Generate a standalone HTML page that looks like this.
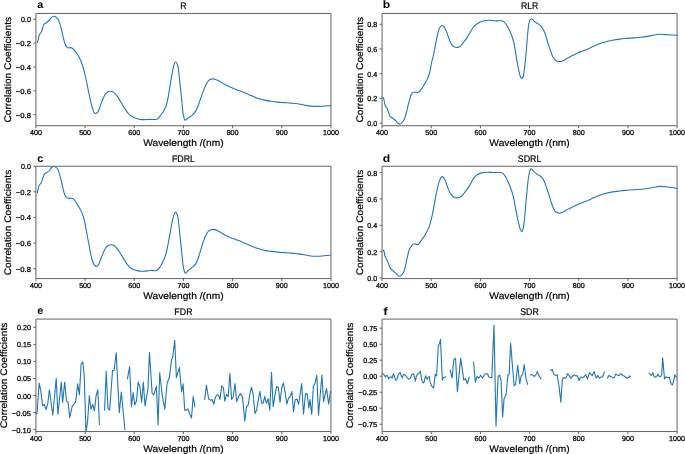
<!DOCTYPE html>
<html><head><meta charset="utf-8"><style>html,body{margin:0;padding:0;background:#fff;}svg{display:block;will-change:transform;}</style></head><body>
<svg width="685" height="454" viewBox="0 0 685 454" text-rendering="geometricPrecision" font-family='"Liberation Sans", sans-serif' fill="#000">
<rect width="685" height="454" fill="#fff"/>
<clipPath id="clipa"><rect x="35.93" y="13.45" width="295.01" height="112.28"/></clipPath>
<path d="M37.40,42.30 C37.58,41.70 38.20,39.95 38.50,38.70 C38.80,37.45 38.88,35.67 39.20,34.80 C39.52,33.93 40.02,34.03 40.40,33.50 C40.78,32.97 41.13,32.53 41.50,31.60 C41.87,30.67 42.17,29.15 42.60,27.90 C43.03,26.65 43.67,24.85 44.10,24.10 C44.53,23.35 44.70,23.72 45.20,23.40 C45.70,23.08 46.40,22.77 47.10,22.20 C47.80,21.63 48.65,20.80 49.40,20.00 C50.15,19.20 50.87,18.02 51.60,17.40 C52.33,16.78 53.13,16.42 53.80,16.30 C54.47,16.18 55.03,16.33 55.60,16.70 C56.17,17.07 56.67,17.85 57.20,18.50 C57.73,19.15 58.20,19.15 58.80,20.60 C59.40,22.05 60.14,24.78 60.80,27.20 C61.46,29.62 62.10,32.47 62.75,35.10 C63.40,37.73 64.04,41.02 64.70,43.00 C65.36,44.98 66.03,46.18 66.70,47.00 C67.37,47.82 67.93,47.78 68.70,47.90 C69.47,48.02 70.42,47.42 71.30,47.70 C72.18,47.98 73.00,48.50 74.00,49.60 C75.00,50.70 76.20,52.53 77.30,54.30 C78.40,56.07 79.60,57.93 80.60,60.20 C81.60,62.47 82.42,64.85 83.30,67.90 C84.18,70.95 85.02,74.53 85.90,78.50 C86.78,82.47 87.72,87.52 88.60,91.70 C89.48,95.88 90.32,100.18 91.20,103.60 C92.08,107.02 93.12,110.55 93.90,112.20 C94.68,113.85 95.13,113.72 95.90,113.50 C96.67,113.28 97.63,112.55 98.50,110.90 C99.37,109.25 100.12,106.13 101.10,103.60 C102.08,101.07 103.29,97.63 104.40,95.70 C105.51,93.77 106.75,92.73 107.75,92.00 C108.75,91.27 109.41,91.23 110.40,91.30 C111.39,91.37 112.60,91.63 113.70,92.40 C114.80,93.17 115.78,94.25 117.00,95.90 C118.22,97.55 119.68,100.13 121.00,102.30 C122.32,104.47 123.58,106.92 124.90,108.90 C126.22,110.88 127.57,112.83 128.90,114.20 C130.23,115.57 131.58,116.38 132.90,117.10 C134.22,117.82 135.62,118.12 136.80,118.50 C137.98,118.88 138.76,119.22 140.00,119.40 C141.24,119.58 142.67,119.60 144.25,119.60 C145.83,119.60 147.74,119.43 149.50,119.40 C151.26,119.38 153.47,119.50 154.80,119.45 C156.13,119.40 156.62,119.69 157.50,119.10 C158.38,118.51 159.12,117.21 160.10,115.90 C161.08,114.59 162.40,112.90 163.40,111.25 C164.40,109.60 165.33,108.21 166.10,106.00 C166.87,103.79 167.35,101.32 168.00,98.00 C168.65,94.68 169.33,90.06 170.00,86.10 C170.67,82.14 171.40,77.55 172.00,74.25 C172.60,70.95 173.05,68.34 173.60,66.30 C174.15,64.26 174.57,61.95 175.30,62.00 C176.03,62.05 177.33,64.07 178.00,66.60 C178.67,69.13 178.87,73.45 179.30,77.20 C179.73,80.95 180.17,84.92 180.60,89.10 C181.03,93.28 181.47,98.12 181.90,102.30 C182.33,106.48 182.68,111.22 183.20,114.20 C183.72,117.18 184.22,119.58 185.00,120.20 C185.78,120.82 186.77,118.67 187.90,117.90 C189.03,117.13 190.47,116.82 191.80,115.60 C193.13,114.38 194.77,112.43 195.90,110.60 C197.03,108.77 197.82,106.58 198.60,104.60 C199.38,102.62 199.83,100.90 200.60,98.70 C201.37,96.50 202.32,93.72 203.20,91.40 C204.08,89.08 205.02,86.60 205.90,84.80 C206.78,83.00 207.52,81.58 208.50,80.60 C209.48,79.62 210.70,79.12 211.80,78.90 C212.90,78.68 213.88,78.93 215.10,79.30 C216.32,79.67 217.55,80.28 219.10,81.10 C220.65,81.92 222.65,83.25 224.40,84.20 C226.15,85.15 227.62,85.88 229.60,86.80 C231.57,87.72 234.03,88.82 236.25,89.70 C238.47,90.58 240.34,91.08 242.90,92.10 C245.46,93.12 249.07,94.75 251.60,95.80 C254.13,96.85 255.92,97.68 258.10,98.40 C260.28,99.12 262.50,99.62 264.70,100.10 C266.90,100.58 269.12,100.97 271.30,101.30 C273.48,101.63 275.62,101.88 277.80,102.10 C279.98,102.32 282.20,102.43 284.40,102.60 C286.60,102.77 288.80,102.90 291.00,103.10 C293.20,103.30 295.42,103.48 297.60,103.80 C299.78,104.12 301.92,104.62 304.10,105.00 C306.28,105.38 308.50,105.87 310.70,106.10 C312.90,106.33 315.12,106.40 317.30,106.40 C319.48,106.40 321.62,106.23 323.80,106.10 C325.98,105.97 329.30,105.68 330.40,105.60" fill="none" stroke="#1f77b4" stroke-width="1.1" stroke-linejoin="round" stroke-linecap="square" clip-path="url(#clipa)"/>
<path d="M35.93,13.45 H330.94 V125.73 H35.93 Z" fill="none" stroke="#626262" stroke-width="1.00"/>
<line x1="35.93" y1="125.73" x2="35.93" y2="128.23" stroke="#626262" stroke-width="1.00"/>
<text x="35.93" y="135.13" font-size="7.20" text-anchor="middle" font-weight="normal" stroke="#000" stroke-width="0.25" textLength="11.92" lengthAdjust="spacingAndGlyphs">400</text>
<line x1="85.10" y1="125.73" x2="85.10" y2="128.23" stroke="#626262" stroke-width="1.00"/>
<text x="85.10" y="135.13" font-size="7.20" text-anchor="middle" font-weight="normal" stroke="#000" stroke-width="0.25" textLength="11.92" lengthAdjust="spacingAndGlyphs">500</text>
<line x1="134.27" y1="125.73" x2="134.27" y2="128.23" stroke="#626262" stroke-width="1.00"/>
<text x="134.27" y="135.13" font-size="7.20" text-anchor="middle" font-weight="normal" stroke="#000" stroke-width="0.25" textLength="11.92" lengthAdjust="spacingAndGlyphs">600</text>
<line x1="183.44" y1="125.73" x2="183.44" y2="128.23" stroke="#626262" stroke-width="1.00"/>
<text x="183.44" y="135.13" font-size="7.20" text-anchor="middle" font-weight="normal" stroke="#000" stroke-width="0.25" textLength="11.92" lengthAdjust="spacingAndGlyphs">700</text>
<line x1="232.60" y1="125.73" x2="232.60" y2="128.23" stroke="#626262" stroke-width="1.00"/>
<text x="232.60" y="135.13" font-size="7.20" text-anchor="middle" font-weight="normal" stroke="#000" stroke-width="0.25" textLength="11.92" lengthAdjust="spacingAndGlyphs">800</text>
<line x1="281.77" y1="125.73" x2="281.77" y2="128.23" stroke="#626262" stroke-width="1.00"/>
<text x="281.77" y="135.13" font-size="7.20" text-anchor="middle" font-weight="normal" stroke="#000" stroke-width="0.25" textLength="11.92" lengthAdjust="spacingAndGlyphs">900</text>
<line x1="330.94" y1="125.73" x2="330.94" y2="128.23" stroke="#626262" stroke-width="1.00"/>
<text x="330.94" y="135.13" font-size="7.20" text-anchor="middle" font-weight="normal" stroke="#000" stroke-width="0.25" textLength="15.90" lengthAdjust="spacingAndGlyphs">1000</text>
<line x1="33.43" y1="19.26" x2="35.93" y2="19.26" stroke="#626262" stroke-width="1.00"/>
<text x="31.03" y="22.26" font-size="7.20" text-anchor="end" font-weight="normal" stroke="#000" stroke-width="0.25" textLength="9.94" lengthAdjust="spacingAndGlyphs">0.0</text>
<line x1="33.43" y1="43.11" x2="35.93" y2="43.11" stroke="#626262" stroke-width="1.00"/>
<text x="31.03" y="46.11" font-size="7.20" text-anchor="end" font-weight="normal" stroke="#000" stroke-width="0.25" textLength="15.17" lengthAdjust="spacingAndGlyphs">−0.2</text>
<line x1="33.43" y1="66.96" x2="35.93" y2="66.96" stroke="#626262" stroke-width="1.00"/>
<text x="31.03" y="69.96" font-size="7.20" text-anchor="end" font-weight="normal" stroke="#000" stroke-width="0.25" textLength="15.17" lengthAdjust="spacingAndGlyphs">−0.4</text>
<line x1="33.43" y1="90.80" x2="35.93" y2="90.80" stroke="#626262" stroke-width="1.00"/>
<text x="31.03" y="93.80" font-size="7.20" text-anchor="end" font-weight="normal" stroke="#000" stroke-width="0.25" textLength="15.17" lengthAdjust="spacingAndGlyphs">−0.6</text>
<line x1="33.43" y1="114.65" x2="35.93" y2="114.65" stroke="#626262" stroke-width="1.00"/>
<text x="31.03" y="117.65" font-size="7.20" text-anchor="end" font-weight="normal" stroke="#000" stroke-width="0.25" textLength="15.17" lengthAdjust="spacingAndGlyphs">−0.8</text>
<text x="183.44" y="146.33" font-size="9.60" text-anchor="middle" font-weight="normal" stroke="#000" stroke-width="0.20" textLength="80.40" lengthAdjust="spacingAndGlyphs">Wavelength /(nm)</text>
<text x="0" y="0" font-size="9.60" text-anchor="middle" textLength="105.6" lengthAdjust="spacingAndGlyphs" stroke="#000" stroke-width="0.20" transform="translate(10.80,69.74) rotate(-90)">Correlation Coefficients</text>
<text x="183.44" y="8.95" font-size="9.60" text-anchor="middle" font-weight="normal" stroke="#000" stroke-width="0.20" textLength="6.19" lengthAdjust="spacingAndGlyphs">R</text>
<text x="37.23" y="7.90" font-size="10.80" text-anchor="start" font-weight="bold">a</text>
<clipPath id="clipb"><rect x="382.06" y="13.45" width="295.01" height="112.28"/></clipPath>
<path d="M382.50,97.50 C382.67,97.60 383.22,97.55 383.50,98.10 C383.78,98.65 383.92,99.52 384.20,100.80 C384.48,102.08 384.75,104.65 385.20,105.80 C385.65,106.95 386.35,106.62 386.90,107.70 C387.45,108.78 387.98,110.88 388.50,112.30 C389.02,113.72 389.37,115.25 390.00,116.20 C390.63,117.15 391.40,117.30 392.30,118.00 C393.20,118.70 394.57,119.58 395.40,120.40 C396.23,121.22 396.59,122.28 397.30,122.90 C398.01,123.52 398.93,124.07 399.65,124.10 C400.37,124.13 400.96,123.65 401.60,123.10 C402.24,122.55 402.93,121.76 403.50,120.80 C404.07,119.84 404.48,118.82 405.00,117.35 C405.52,115.88 406.08,113.99 406.60,112.00 C407.12,110.01 407.58,107.47 408.10,105.40 C408.62,103.33 409.20,101.40 409.70,99.60 C410.20,97.80 410.50,95.80 411.10,94.60 C411.70,93.40 412.48,92.80 413.30,92.40 C414.12,92.00 415.08,92.25 416.00,92.20 C416.92,92.15 417.88,92.62 418.80,92.10 C419.72,91.58 420.50,90.52 421.50,89.10 C422.50,87.68 423.78,85.34 424.80,83.60 C425.82,81.86 426.77,80.58 427.60,78.65 C428.43,76.72 429.17,74.53 429.80,72.00 C430.43,69.47 430.85,66.07 431.40,63.50 C431.95,60.93 432.58,58.85 433.10,56.60 C433.62,54.35 433.87,53.20 434.50,50.00 C435.13,46.80 436.17,40.82 436.90,37.40 C437.63,33.98 438.23,31.40 438.90,29.50 C439.57,27.60 440.32,26.66 440.90,26.00 C441.48,25.34 441.85,25.40 442.40,25.55 C442.95,25.70 443.58,26.02 444.20,26.90 C444.82,27.77 445.45,29.27 446.10,30.80 C446.75,32.33 447.43,34.33 448.10,36.10 C448.77,37.87 449.43,39.85 450.10,41.40 C450.77,42.95 451.33,44.45 452.10,45.40 C452.87,46.35 453.72,46.77 454.70,47.10 C455.68,47.43 457.00,47.62 458.00,47.40 C459.00,47.18 459.82,46.58 460.70,45.80 C461.58,45.02 462.32,43.98 463.30,42.70 C464.28,41.42 465.50,39.75 466.60,38.10 C467.70,36.45 468.80,34.57 469.90,32.80 C471.00,31.03 472.10,28.93 473.20,27.50 C474.30,26.07 475.28,25.12 476.50,24.20 C477.72,23.28 479.25,22.58 480.50,22.00 C481.75,21.42 482.77,20.98 484.00,20.70 C485.23,20.42 486.37,20.33 487.90,20.30 C489.43,20.27 491.65,20.40 493.20,20.50 C494.75,20.60 495.88,20.87 497.20,20.90 C498.52,20.93 500.00,20.58 501.10,20.70 C502.20,20.82 502.92,20.90 503.80,21.60 C504.68,22.30 505.52,23.58 506.40,24.90 C507.28,26.22 508.22,27.73 509.10,29.50 C509.98,31.27 510.93,33.40 511.70,35.50 C512.47,37.60 513.12,39.68 513.70,42.10 C514.28,44.52 514.75,47.37 515.20,50.00 C515.65,52.63 515.93,55.15 516.40,57.90 C516.87,60.65 517.48,63.90 518.00,66.50 C518.52,69.10 519.08,71.75 519.50,73.50 C519.92,75.25 520.12,76.18 520.50,77.00 C520.88,77.82 521.35,78.48 521.80,78.40 C522.25,78.32 522.78,77.90 523.20,76.50 C523.62,75.10 523.97,72.42 524.30,70.00 C524.63,67.58 524.90,64.83 525.20,62.00 C525.50,59.17 525.82,56.17 526.10,53.00 C526.38,49.83 526.63,46.17 526.90,43.00 C527.17,39.83 527.45,36.67 527.70,34.00 C527.95,31.33 528.08,29.18 528.40,27.00 C528.72,24.82 529.12,22.25 529.60,20.90 C530.08,19.55 530.75,19.12 531.30,18.90 C531.85,18.68 532.45,19.22 532.90,19.60 C533.35,19.98 533.57,20.76 534.00,21.20 C534.43,21.64 534.85,21.82 535.50,22.25 C536.15,22.68 536.95,23.14 537.90,23.80 C538.85,24.46 540.20,25.03 541.20,26.20 C542.20,27.37 543.12,29.15 543.90,30.80 C544.68,32.45 545.25,34.12 545.90,36.10 C546.55,38.08 547.15,40.60 547.80,42.70 C548.45,44.80 549.02,46.48 549.80,48.70 C550.58,50.92 551.62,54.13 552.50,56.00 C553.38,57.87 554.12,58.97 555.10,59.90 C556.08,60.83 557.30,61.38 558.40,61.60 C559.50,61.82 560.48,61.59 561.70,61.20 C562.92,60.81 564.38,59.95 565.70,59.25 C567.02,58.55 568.28,57.71 569.60,57.00 C570.92,56.29 572.27,55.68 573.60,55.00 C574.93,54.32 576.05,53.58 577.60,52.90 C579.15,52.22 581.15,51.57 582.90,50.90 C584.65,50.23 586.60,49.55 588.10,48.90 C589.60,48.25 590.10,47.82 591.90,47.00 C593.70,46.18 596.58,44.87 598.90,44.00 C601.22,43.13 603.50,42.42 605.80,41.80 C608.10,41.17 610.38,40.70 612.70,40.25 C615.02,39.80 617.38,39.41 619.70,39.10 C622.02,38.79 624.30,38.60 626.60,38.40 C628.90,38.20 631.18,38.08 633.50,37.90 C635.82,37.72 638.18,37.55 640.50,37.30 C642.82,37.05 645.10,36.78 647.40,36.40 C649.70,36.02 652.22,35.35 654.30,35.00 C656.38,34.65 658.05,34.37 659.90,34.30 C661.75,34.23 663.55,34.48 665.40,34.60 C667.25,34.72 669.10,34.88 671.00,35.00 C672.90,35.12 675.83,35.25 676.80,35.30" fill="none" stroke="#1f77b4" stroke-width="1.1" stroke-linejoin="round" stroke-linecap="square" clip-path="url(#clipb)"/>
<path d="M382.06,13.45 H677.07 V125.73 H382.06 Z" fill="none" stroke="#626262" stroke-width="1.00"/>
<line x1="382.06" y1="125.73" x2="382.06" y2="128.23" stroke="#626262" stroke-width="1.00"/>
<text x="382.06" y="135.13" font-size="7.20" text-anchor="middle" font-weight="normal" stroke="#000" stroke-width="0.25" textLength="11.92" lengthAdjust="spacingAndGlyphs">400</text>
<line x1="431.23" y1="125.73" x2="431.23" y2="128.23" stroke="#626262" stroke-width="1.00"/>
<text x="431.23" y="135.13" font-size="7.20" text-anchor="middle" font-weight="normal" stroke="#000" stroke-width="0.25" textLength="11.92" lengthAdjust="spacingAndGlyphs">500</text>
<line x1="480.40" y1="125.73" x2="480.40" y2="128.23" stroke="#626262" stroke-width="1.00"/>
<text x="480.40" y="135.13" font-size="7.20" text-anchor="middle" font-weight="normal" stroke="#000" stroke-width="0.25" textLength="11.92" lengthAdjust="spacingAndGlyphs">600</text>
<line x1="529.57" y1="125.73" x2="529.57" y2="128.23" stroke="#626262" stroke-width="1.00"/>
<text x="529.57" y="135.13" font-size="7.20" text-anchor="middle" font-weight="normal" stroke="#000" stroke-width="0.25" textLength="11.92" lengthAdjust="spacingAndGlyphs">700</text>
<line x1="578.73" y1="125.73" x2="578.73" y2="128.23" stroke="#626262" stroke-width="1.00"/>
<text x="578.73" y="135.13" font-size="7.20" text-anchor="middle" font-weight="normal" stroke="#000" stroke-width="0.25" textLength="11.92" lengthAdjust="spacingAndGlyphs">800</text>
<line x1="627.90" y1="125.73" x2="627.90" y2="128.23" stroke="#626262" stroke-width="1.00"/>
<text x="627.90" y="135.13" font-size="7.20" text-anchor="middle" font-weight="normal" stroke="#000" stroke-width="0.25" textLength="11.92" lengthAdjust="spacingAndGlyphs">900</text>
<line x1="677.07" y1="125.73" x2="677.07" y2="128.23" stroke="#626262" stroke-width="1.00"/>
<text x="677.07" y="135.13" font-size="7.20" text-anchor="middle" font-weight="normal" stroke="#000" stroke-width="0.25" textLength="15.90" lengthAdjust="spacingAndGlyphs">1000</text>
<line x1="379.56" y1="123.12" x2="382.06" y2="123.12" stroke="#626262" stroke-width="1.00"/>
<text x="377.16" y="126.12" font-size="7.20" text-anchor="end" font-weight="normal" stroke="#000" stroke-width="0.25" textLength="9.94" lengthAdjust="spacingAndGlyphs">0.0</text>
<line x1="379.56" y1="98.41" x2="382.06" y2="98.41" stroke="#626262" stroke-width="1.00"/>
<text x="377.16" y="101.41" font-size="7.20" text-anchor="end" font-weight="normal" stroke="#000" stroke-width="0.25" textLength="9.94" lengthAdjust="spacingAndGlyphs">0.2</text>
<line x1="379.56" y1="73.69" x2="382.06" y2="73.69" stroke="#626262" stroke-width="1.00"/>
<text x="377.16" y="76.69" font-size="7.20" text-anchor="end" font-weight="normal" stroke="#000" stroke-width="0.25" textLength="9.94" lengthAdjust="spacingAndGlyphs">0.4</text>
<line x1="379.56" y1="48.98" x2="382.06" y2="48.98" stroke="#626262" stroke-width="1.00"/>
<text x="377.16" y="51.98" font-size="7.20" text-anchor="end" font-weight="normal" stroke="#000" stroke-width="0.25" textLength="9.94" lengthAdjust="spacingAndGlyphs">0.6</text>
<line x1="379.56" y1="24.26" x2="382.06" y2="24.26" stroke="#626262" stroke-width="1.00"/>
<text x="377.16" y="27.26" font-size="7.20" text-anchor="end" font-weight="normal" stroke="#000" stroke-width="0.25" textLength="9.94" lengthAdjust="spacingAndGlyphs">0.8</text>
<text x="529.57" y="146.33" font-size="9.60" text-anchor="middle" font-weight="normal" stroke="#000" stroke-width="0.20" textLength="80.40" lengthAdjust="spacingAndGlyphs">Wavelength /(nm)</text>
<text x="0" y="0" font-size="9.60" text-anchor="middle" textLength="105.6" lengthAdjust="spacingAndGlyphs" stroke="#000" stroke-width="0.20" transform="translate(362.60,69.74) rotate(-90)">Correlation Coefficients</text>
<text x="529.57" y="8.95" font-size="9.60" text-anchor="middle" font-weight="normal" stroke="#000" stroke-width="0.20" textLength="17.33" lengthAdjust="spacingAndGlyphs">RLR</text>
<text x="382.76" y="7.90" font-size="10.80" text-anchor="start" font-weight="bold" textLength="7.45" lengthAdjust="spacingAndGlyphs">b</text>
<clipPath id="clipc"><rect x="35.93" y="166.27" width="295.01" height="112.30"/></clipPath>
<path d="M37.40,192.60 C37.58,191.78 38.20,188.92 38.50,187.70 C38.80,186.48 38.85,185.98 39.20,185.30 C39.55,184.62 40.22,184.13 40.60,183.60 C40.98,183.07 41.17,182.92 41.50,182.10 C41.83,181.28 42.17,179.95 42.60,178.70 C43.03,177.45 43.67,175.47 44.10,174.60 C44.53,173.73 44.70,173.87 45.20,173.50 C45.70,173.13 46.40,172.90 47.10,172.40 C47.80,171.90 48.65,171.32 49.40,170.50 C50.15,169.68 50.90,168.18 51.60,167.50 C52.30,166.82 52.92,166.47 53.60,166.40 C54.28,166.33 55.03,166.67 55.70,167.10 C56.37,167.53 57.08,168.22 57.60,169.00 C58.12,169.78 58.27,170.15 58.80,171.80 C59.33,173.45 60.14,176.30 60.80,178.90 C61.46,181.50 62.10,184.77 62.75,187.40 C63.40,190.03 64.04,193.00 64.70,194.70 C65.36,196.40 65.92,196.98 66.70,197.60 C67.48,198.22 68.40,198.27 69.40,198.40 C70.40,198.53 71.72,197.92 72.70,198.40 C73.68,198.88 74.32,199.93 75.30,201.30 C76.28,202.67 77.50,204.72 78.60,206.60 C79.70,208.48 80.90,210.12 81.90,212.60 C82.90,215.08 83.82,218.23 84.60,221.50 C85.38,224.77 85.93,228.66 86.60,232.20 C87.27,235.74 87.93,239.23 88.60,242.75 C89.27,246.27 89.94,250.22 90.60,253.30 C91.26,256.38 91.90,259.27 92.55,261.25 C93.20,263.23 93.84,264.32 94.50,265.20 C95.16,266.07 95.83,266.60 96.50,266.50 C97.17,266.40 97.83,265.70 98.50,264.60 C99.17,263.50 99.83,261.57 100.50,259.90 C101.17,258.23 101.73,256.47 102.50,254.60 C103.27,252.73 104.22,250.18 105.10,248.70 C105.97,247.22 106.76,246.37 107.75,245.70 C108.74,245.03 109.94,244.70 111.05,244.70 C112.16,244.70 113.41,245.03 114.40,245.70 C115.39,246.37 116.02,247.43 117.00,248.70 C117.98,249.97 119.20,251.65 120.30,253.30 C121.40,254.95 122.50,256.83 123.60,258.60 C124.70,260.37 125.80,262.40 126.90,263.90 C128.00,265.40 128.98,266.62 130.20,267.60 C131.42,268.58 132.88,269.25 134.20,269.80 C135.52,270.35 136.97,270.67 138.10,270.90 C139.23,271.13 139.97,271.15 141.00,271.20 C142.03,271.25 142.68,271.32 144.25,271.20 C145.82,271.08 148.34,270.62 150.40,270.50 C152.46,270.38 155.05,271.02 156.60,270.50 C158.15,269.98 158.67,268.82 159.70,267.40 C160.73,265.98 161.78,264.18 162.80,262.00 C163.83,259.82 164.95,257.38 165.85,254.30 C166.75,251.22 167.42,247.37 168.20,243.50 C168.97,239.63 169.73,235.22 170.50,231.10 C171.27,226.98 171.98,221.93 172.80,218.80 C173.62,215.67 174.55,212.56 175.40,212.30 C176.25,212.04 177.18,213.85 177.90,217.25 C178.62,220.65 179.13,227.56 179.70,232.70 C180.27,237.84 180.73,242.70 181.30,248.10 C181.87,253.50 182.47,260.93 183.10,265.10 C183.73,269.27 184.25,272.20 185.10,273.10 C185.95,274.00 187.03,271.45 188.20,270.50 C189.37,269.55 190.82,268.55 192.10,267.40 C193.38,266.25 194.82,265.33 195.90,263.60 C196.98,261.87 197.82,259.20 198.60,257.00 C199.38,254.80 199.83,252.93 200.60,250.40 C201.37,247.87 202.32,244.33 203.20,241.80 C204.08,239.27 205.02,236.97 205.90,235.20 C206.78,233.43 207.52,232.15 208.50,231.20 C209.48,230.25 210.70,229.77 211.80,229.50 C212.90,229.23 213.88,229.25 215.10,229.60 C216.32,229.95 217.55,230.73 219.10,231.60 C220.65,232.47 222.65,233.85 224.40,234.80 C226.15,235.75 227.62,236.47 229.60,237.30 C231.57,238.13 234.03,238.95 236.25,239.80 C238.47,240.65 240.34,241.33 242.90,242.40 C245.46,243.47 249.07,245.18 251.60,246.20 C254.13,247.22 255.92,247.80 258.10,248.50 C260.28,249.20 262.50,249.92 264.70,250.40 C266.90,250.88 269.12,251.12 271.30,251.40 C273.48,251.68 275.62,251.90 277.80,252.10 C279.98,252.30 282.20,252.43 284.40,252.60 C286.60,252.77 288.80,252.90 291.00,253.10 C293.20,253.30 295.42,253.53 297.60,253.80 C299.78,254.07 301.92,254.33 304.10,254.70 C306.28,255.07 308.50,255.73 310.70,256.00 C312.90,256.27 315.12,256.33 317.30,256.30 C319.48,256.27 321.62,256.00 323.80,255.80 C325.98,255.60 329.30,255.22 330.40,255.10" fill="none" stroke="#1f77b4" stroke-width="1.1" stroke-linejoin="round" stroke-linecap="square" clip-path="url(#clipc)"/>
<path d="M35.93,166.27 H330.94 V278.57 H35.93 Z" fill="none" stroke="#626262" stroke-width="1.00"/>
<line x1="35.93" y1="278.57" x2="35.93" y2="281.07" stroke="#626262" stroke-width="1.00"/>
<text x="35.93" y="287.97" font-size="7.20" text-anchor="middle" font-weight="normal" stroke="#000" stroke-width="0.25" textLength="11.92" lengthAdjust="spacingAndGlyphs">400</text>
<line x1="85.10" y1="278.57" x2="85.10" y2="281.07" stroke="#626262" stroke-width="1.00"/>
<text x="85.10" y="287.97" font-size="7.20" text-anchor="middle" font-weight="normal" stroke="#000" stroke-width="0.25" textLength="11.92" lengthAdjust="spacingAndGlyphs">500</text>
<line x1="134.27" y1="278.57" x2="134.27" y2="281.07" stroke="#626262" stroke-width="1.00"/>
<text x="134.27" y="287.97" font-size="7.20" text-anchor="middle" font-weight="normal" stroke="#000" stroke-width="0.25" textLength="11.92" lengthAdjust="spacingAndGlyphs">600</text>
<line x1="183.44" y1="278.57" x2="183.44" y2="281.07" stroke="#626262" stroke-width="1.00"/>
<text x="183.44" y="287.97" font-size="7.20" text-anchor="middle" font-weight="normal" stroke="#000" stroke-width="0.25" textLength="11.92" lengthAdjust="spacingAndGlyphs">700</text>
<line x1="232.60" y1="278.57" x2="232.60" y2="281.07" stroke="#626262" stroke-width="1.00"/>
<text x="232.60" y="287.97" font-size="7.20" text-anchor="middle" font-weight="normal" stroke="#000" stroke-width="0.25" textLength="11.92" lengthAdjust="spacingAndGlyphs">800</text>
<line x1="281.77" y1="278.57" x2="281.77" y2="281.07" stroke="#626262" stroke-width="1.00"/>
<text x="281.77" y="287.97" font-size="7.20" text-anchor="middle" font-weight="normal" stroke="#000" stroke-width="0.25" textLength="11.92" lengthAdjust="spacingAndGlyphs">900</text>
<line x1="330.94" y1="278.57" x2="330.94" y2="281.07" stroke="#626262" stroke-width="1.00"/>
<text x="330.94" y="287.97" font-size="7.20" text-anchor="middle" font-weight="normal" stroke="#000" stroke-width="0.25" textLength="15.90" lengthAdjust="spacingAndGlyphs">1000</text>
<line x1="33.43" y1="166.12" x2="35.93" y2="166.12" stroke="#626262" stroke-width="1.00"/>
<text x="31.03" y="169.12" font-size="7.20" text-anchor="end" font-weight="normal" stroke="#000" stroke-width="0.25" textLength="9.94" lengthAdjust="spacingAndGlyphs">0.0</text>
<line x1="33.43" y1="191.77" x2="35.93" y2="191.77" stroke="#626262" stroke-width="1.00"/>
<text x="31.03" y="194.77" font-size="7.20" text-anchor="end" font-weight="normal" stroke="#000" stroke-width="0.25" textLength="15.17" lengthAdjust="spacingAndGlyphs">−0.2</text>
<line x1="33.43" y1="217.42" x2="35.93" y2="217.42" stroke="#626262" stroke-width="1.00"/>
<text x="31.03" y="220.42" font-size="7.20" text-anchor="end" font-weight="normal" stroke="#000" stroke-width="0.25" textLength="15.17" lengthAdjust="spacingAndGlyphs">−0.4</text>
<line x1="33.43" y1="243.07" x2="35.93" y2="243.07" stroke="#626262" stroke-width="1.00"/>
<text x="31.03" y="246.07" font-size="7.20" text-anchor="end" font-weight="normal" stroke="#000" stroke-width="0.25" textLength="15.17" lengthAdjust="spacingAndGlyphs">−0.6</text>
<line x1="33.43" y1="268.72" x2="35.93" y2="268.72" stroke="#626262" stroke-width="1.00"/>
<text x="31.03" y="271.72" font-size="7.20" text-anchor="end" font-weight="normal" stroke="#000" stroke-width="0.25" textLength="15.17" lengthAdjust="spacingAndGlyphs">−0.8</text>
<text x="183.44" y="299.17" font-size="9.60" text-anchor="middle" font-weight="normal" stroke="#000" stroke-width="0.20" textLength="80.40" lengthAdjust="spacingAndGlyphs">Wavelength /(nm)</text>
<text x="0" y="0" font-size="9.60" text-anchor="middle" textLength="105.6" lengthAdjust="spacingAndGlyphs" stroke="#000" stroke-width="0.20" transform="translate(10.80,222.57) rotate(-90)">Correlation Coefficients</text>
<text x="183.44" y="161.77" font-size="9.60" text-anchor="middle" font-weight="normal" stroke="#000" stroke-width="0.20" textLength="23.11" lengthAdjust="spacingAndGlyphs">FDRL</text>
<text x="37.23" y="161.80" font-size="10.80" text-anchor="start" font-weight="bold">c</text>
<clipPath id="clipd"><rect x="382.06" y="166.27" width="295.01" height="112.30"/></clipPath>
<path d="M382.90,250.00 C383.00,250.10 383.28,250.27 383.50,250.60 C383.72,250.93 383.95,251.03 384.20,252.00 C384.45,252.97 384.60,255.20 385.00,256.40 C385.40,257.60 386.05,258.08 386.60,259.20 C387.15,260.32 387.65,261.53 388.30,263.10 C388.95,264.67 389.68,267.28 390.50,268.60 C391.32,269.92 392.28,270.18 393.20,271.00 C394.12,271.82 395.17,272.75 396.00,273.50 C396.83,274.25 397.57,275.03 398.20,275.50 C398.83,275.97 399.17,276.45 399.80,276.30 C400.43,276.15 401.30,275.43 402.00,274.60 C402.70,273.77 403.40,272.85 404.00,271.30 C404.60,269.75 405.05,267.60 405.60,265.30 C406.15,263.00 406.70,260.08 407.30,257.50 C407.90,254.92 408.52,251.72 409.20,249.80 C409.88,247.88 410.67,246.95 411.40,246.00 C412.13,245.05 412.77,244.38 413.60,244.10 C414.43,243.82 415.57,244.32 416.40,244.30 C417.23,244.28 417.65,244.85 418.60,244.00 C419.55,243.15 420.93,240.88 422.10,239.20 C423.27,237.52 424.43,235.95 425.60,233.90 C426.77,231.85 428.07,229.68 429.10,226.90 C430.13,224.12 430.92,221.03 431.80,217.20 C432.68,213.37 433.52,208.47 434.40,203.90 C435.28,199.33 436.22,193.77 437.10,189.80 C437.98,185.83 438.82,182.30 439.70,180.10 C440.57,177.90 441.47,176.60 442.35,176.60 C443.23,176.60 444.12,178.33 445.00,180.10 C445.88,181.87 446.72,184.99 447.60,187.20 C448.48,189.41 449.27,191.73 450.30,193.35 C451.33,194.97 452.48,196.16 453.80,196.90 C455.12,197.64 456.87,197.95 458.20,197.80 C459.53,197.65 460.62,197.03 461.80,196.00 C462.98,194.97 463.98,193.37 465.30,191.60 C466.62,189.83 468.40,187.48 469.70,185.40 C471.00,183.32 471.90,180.85 473.10,179.10 C474.30,177.35 475.48,175.93 476.90,174.90 C478.32,173.87 479.92,173.35 481.60,172.90 C483.28,172.45 485.08,172.27 487.00,172.20 C488.92,172.13 491.18,172.45 493.10,172.50 C495.02,172.55 496.95,172.43 498.50,172.50 C500.05,172.57 501.23,172.18 502.40,172.90 C503.57,173.62 504.47,175.12 505.50,176.80 C506.53,178.48 507.58,180.68 508.60,183.00 C509.62,185.32 510.70,187.88 511.60,190.70 C512.50,193.52 513.22,196.30 514.00,199.90 C514.78,203.50 515.53,208.43 516.30,212.30 C517.07,216.17 517.95,220.32 518.60,223.10 C519.25,225.88 519.68,227.58 520.20,229.00 C520.72,230.42 521.20,231.68 521.70,231.60 C522.20,231.52 522.77,230.27 523.20,228.50 C523.63,226.73 523.95,223.92 524.30,221.00 C524.65,218.08 524.97,214.67 525.30,211.00 C525.63,207.33 525.95,203.00 526.30,199.00 C526.65,195.00 527.02,190.67 527.40,187.00 C527.78,183.33 528.08,179.95 528.60,177.00 C529.12,174.05 529.88,170.52 530.50,169.30 C531.12,168.08 531.57,169.15 532.30,169.70 C533.03,170.25 533.92,171.78 534.90,172.60 C535.88,173.42 537.10,173.83 538.20,174.60 C539.30,175.37 540.50,176.10 541.50,177.20 C542.50,178.30 543.32,179.32 544.20,181.20 C545.08,183.08 545.93,185.97 546.80,188.50 C547.67,191.03 548.52,193.65 549.40,196.40 C550.28,199.15 551.22,202.63 552.10,205.00 C552.98,207.37 553.60,209.24 554.70,210.60 C555.80,211.96 557.38,212.88 558.70,213.15 C560.02,213.42 561.17,212.79 562.60,212.20 C564.03,211.61 565.65,210.48 567.30,209.60 C568.95,208.72 570.75,207.73 572.50,206.90 C574.25,206.07 576.03,205.37 577.80,204.60 C579.57,203.83 581.33,203.02 583.10,202.30 C584.87,201.58 586.93,200.92 588.40,200.30 C589.87,199.68 590.15,199.40 591.90,198.60 C593.65,197.80 596.58,196.38 598.90,195.50 C601.22,194.62 603.50,193.90 605.80,193.30 C608.10,192.70 610.38,192.28 612.70,191.90 C615.02,191.52 617.38,191.27 619.70,191.00 C622.02,190.73 624.30,190.52 626.60,190.30 C628.90,190.08 631.18,189.87 633.50,189.70 C635.82,189.53 638.18,189.51 640.50,189.30 C642.82,189.09 645.10,188.80 647.40,188.45 C649.70,188.10 652.22,187.54 654.30,187.20 C656.38,186.86 658.05,186.47 659.90,186.40 C661.75,186.33 663.55,186.62 665.40,186.80 C667.25,186.98 669.10,187.25 671.00,187.50 C672.90,187.75 675.83,188.17 676.80,188.30" fill="none" stroke="#1f77b4" stroke-width="1.1" stroke-linejoin="round" stroke-linecap="square" clip-path="url(#clipd)"/>
<path d="M382.06,166.27 H677.07 V278.57 H382.06 Z" fill="none" stroke="#626262" stroke-width="1.00"/>
<line x1="382.06" y1="278.57" x2="382.06" y2="281.07" stroke="#626262" stroke-width="1.00"/>
<text x="382.06" y="287.97" font-size="7.20" text-anchor="middle" font-weight="normal" stroke="#000" stroke-width="0.25" textLength="11.92" lengthAdjust="spacingAndGlyphs">400</text>
<line x1="431.23" y1="278.57" x2="431.23" y2="281.07" stroke="#626262" stroke-width="1.00"/>
<text x="431.23" y="287.97" font-size="7.20" text-anchor="middle" font-weight="normal" stroke="#000" stroke-width="0.25" textLength="11.92" lengthAdjust="spacingAndGlyphs">500</text>
<line x1="480.40" y1="278.57" x2="480.40" y2="281.07" stroke="#626262" stroke-width="1.00"/>
<text x="480.40" y="287.97" font-size="7.20" text-anchor="middle" font-weight="normal" stroke="#000" stroke-width="0.25" textLength="11.92" lengthAdjust="spacingAndGlyphs">600</text>
<line x1="529.57" y1="278.57" x2="529.57" y2="281.07" stroke="#626262" stroke-width="1.00"/>
<text x="529.57" y="287.97" font-size="7.20" text-anchor="middle" font-weight="normal" stroke="#000" stroke-width="0.25" textLength="11.92" lengthAdjust="spacingAndGlyphs">700</text>
<line x1="578.73" y1="278.57" x2="578.73" y2="281.07" stroke="#626262" stroke-width="1.00"/>
<text x="578.73" y="287.97" font-size="7.20" text-anchor="middle" font-weight="normal" stroke="#000" stroke-width="0.25" textLength="11.92" lengthAdjust="spacingAndGlyphs">800</text>
<line x1="627.90" y1="278.57" x2="627.90" y2="281.07" stroke="#626262" stroke-width="1.00"/>
<text x="627.90" y="287.97" font-size="7.20" text-anchor="middle" font-weight="normal" stroke="#000" stroke-width="0.25" textLength="11.92" lengthAdjust="spacingAndGlyphs">900</text>
<line x1="677.07" y1="278.57" x2="677.07" y2="281.07" stroke="#626262" stroke-width="1.00"/>
<text x="677.07" y="287.97" font-size="7.20" text-anchor="middle" font-weight="normal" stroke="#000" stroke-width="0.25" textLength="15.90" lengthAdjust="spacingAndGlyphs">1000</text>
<line x1="379.56" y1="278.02" x2="382.06" y2="278.02" stroke="#626262" stroke-width="1.00"/>
<text x="377.16" y="281.02" font-size="7.20" text-anchor="end" font-weight="normal" stroke="#000" stroke-width="0.25" textLength="9.94" lengthAdjust="spacingAndGlyphs">0.0</text>
<line x1="379.56" y1="251.64" x2="382.06" y2="251.64" stroke="#626262" stroke-width="1.00"/>
<text x="377.16" y="254.64" font-size="7.20" text-anchor="end" font-weight="normal" stroke="#000" stroke-width="0.25" textLength="9.94" lengthAdjust="spacingAndGlyphs">0.2</text>
<line x1="379.56" y1="225.26" x2="382.06" y2="225.26" stroke="#626262" stroke-width="1.00"/>
<text x="377.16" y="228.26" font-size="7.20" text-anchor="end" font-weight="normal" stroke="#000" stroke-width="0.25" textLength="9.94" lengthAdjust="spacingAndGlyphs">0.4</text>
<line x1="379.56" y1="198.88" x2="382.06" y2="198.88" stroke="#626262" stroke-width="1.00"/>
<text x="377.16" y="201.88" font-size="7.20" text-anchor="end" font-weight="normal" stroke="#000" stroke-width="0.25" textLength="9.94" lengthAdjust="spacingAndGlyphs">0.6</text>
<line x1="379.56" y1="172.50" x2="382.06" y2="172.50" stroke="#626262" stroke-width="1.00"/>
<text x="377.16" y="175.50" font-size="7.20" text-anchor="end" font-weight="normal" stroke="#000" stroke-width="0.25" textLength="9.94" lengthAdjust="spacingAndGlyphs">0.8</text>
<text x="529.57" y="299.17" font-size="9.60" text-anchor="middle" font-weight="normal" stroke="#000" stroke-width="0.20" textLength="80.40" lengthAdjust="spacingAndGlyphs">Wavelength /(nm)</text>
<text x="0" y="0" font-size="9.60" text-anchor="middle" textLength="105.6" lengthAdjust="spacingAndGlyphs" stroke="#000" stroke-width="0.20" transform="translate(362.60,222.57) rotate(-90)">Correlation Coefficients</text>
<text x="529.57" y="161.77" font-size="9.60" text-anchor="middle" font-weight="normal" stroke="#000" stroke-width="0.20" textLength="23.65" lengthAdjust="spacingAndGlyphs">SDRL</text>
<text x="382.76" y="161.80" font-size="10.80" text-anchor="start" font-weight="bold" textLength="7.45" lengthAdjust="spacingAndGlyphs">d</text>
<clipPath id="clipe"><rect x="35.93" y="319.10" width="295.01" height="112.45"/></clipPath>
<path d="M36.00,414.00 L37.00,413.50 L39.20,383.00 L40.90,391.40 L42.60,405.80 L44.30,404.50 L46.00,409.60 L47.70,404.20 L49.40,389.70 L51.10,402.50 L52.80,415.20 L56.20,378.40 L57.90,414.30 L61.30,382.10 L62.60,402.50 L64.70,382.10 L66.40,400.80 L68.10,402.10 L69.70,417.70 L72.30,405.80 L74.00,404.20 L75.70,401.60 L77.70,383.80 L79.40,394.80 L81.10,364.30 L82.80,361.80 L84.20,375.30 L86.00,432.50 L87.60,421.10 L89.30,395.70 L91.00,409.20 L92.70,404.20 L94.40,410.90 L96.10,395.70 L97.80,389.70 L99.50,424.50" fill="none" stroke="#1f77b4" stroke-width="1.1" stroke-linejoin="round" stroke-linecap="square" clip-path="url(#clipe)"/>
<path d="M104.60,410.10 L106.20,371.40 L108.00,408.40 L109.70,410.10 L112.50,370.60 L114.10,370.40 L116.20,352.90 L119.30,412.60 L121.30,392.00 L124.90,429.60" fill="none" stroke="#1f77b4" stroke-width="1.1" stroke-linejoin="round" stroke-linecap="square" clip-path="url(#clipe)"/>
<path d="M127.50,378.70 L129.60,366.50 L131.40,406.70 L133.10,392.60 L134.80,405.00 L136.50,400.80 L138.20,382.10 L139.90,386.40 L141.60,402.50 L143.30,382.10 L145.00,405.80 L147.90,389.70 L149.50,352.20 L152.10,393.10 L153.80,394.80 L156.40,386.40 L158.10,424.80 L159.70,372.80 L162.30,395.70 L164.80,409.20 L167.00,383.80 L169.40,377.00 L171.50,360.40 L172.80,356.50 L174.70,340.30 L176.40,377.60 L179.40,367.30 L181.60,392.00 L183.10,383.80 L184.70,410.10 L186.40,410.10 L187.80,408.90 L189.50,413.50 L191.50,418.00 L193.20,396.50 L194.90,406.70" fill="none" stroke="#1f77b4" stroke-width="1.1" stroke-linejoin="round" stroke-linecap="square" clip-path="url(#clipe)"/>
<path d="M204.70,399.40 L206.40,385.20 L208.60,398.70 L210.70,400.40 L212.00,399.40 L213.70,404.20 L215.40,397.00 L217.30,394.80 L218.60,395.30 L219.90,399.40 L221.80,385.80 L223.50,388.00 L224.80,401.10 L226.50,394.30 L228.20,396.50 L229.90,373.30 L231.60,399.40 L233.30,396.50 L235.00,383.50 L236.70,401.60 L238.70,396.50 L240.40,393.60 L242.50,397.00 L244.80,421.10 L246.50,406.70 L248.20,405.00 L249.70,394.80 L251.40,387.20 L253.10,394.00 L255.00,413.50 L256.70,410.10 L258.40,399.10 L259.90,391.40 L261.70,403.30 L263.10,403.30 L264.70,396.50 L266.40,403.30 L268.10,398.70 L269.80,410.10 L271.50,372.30 L273.20,406.70 L274.90,395.70 L276.60,386.40 L278.30,387.20 L280.00,402.50 L281.70,388.00 L283.40,383.00 L285.10,392.30 L286.80,404.20 L288.50,398.20 L290.20,396.50 L291.90,391.40 L293.50,411.80 L295.20,399.70 L296.90,399.00 L298.60,404.40 L301.70,383.50 L303.50,414.20 L305.50,393.60 L307.20,394.00 L308.90,408.00 L310.00,399.50 L311.70,414.40 L313.40,386.40 L315.10,383.00 L316.80,375.40 L318.50,415.30 L321.90,375.00 L323.60,401.70 L326.50,388.60 L328.70,404.20 L330.40,391.50 L331.00,393.00" fill="none" stroke="#1f77b4" stroke-width="1.1" stroke-linejoin="round" stroke-linecap="square" clip-path="url(#clipe)"/>
<path d="M35.93,319.10 H330.94 V431.55 H35.93 Z" fill="none" stroke="#626262" stroke-width="1.00"/>
<line x1="35.93" y1="431.55" x2="35.93" y2="434.05" stroke="#626262" stroke-width="1.00"/>
<text x="35.93" y="440.95" font-size="7.20" text-anchor="middle" font-weight="normal" stroke="#000" stroke-width="0.25" textLength="11.92" lengthAdjust="spacingAndGlyphs">400</text>
<line x1="85.10" y1="431.55" x2="85.10" y2="434.05" stroke="#626262" stroke-width="1.00"/>
<text x="85.10" y="440.95" font-size="7.20" text-anchor="middle" font-weight="normal" stroke="#000" stroke-width="0.25" textLength="11.92" lengthAdjust="spacingAndGlyphs">500</text>
<line x1="134.27" y1="431.55" x2="134.27" y2="434.05" stroke="#626262" stroke-width="1.00"/>
<text x="134.27" y="440.95" font-size="7.20" text-anchor="middle" font-weight="normal" stroke="#000" stroke-width="0.25" textLength="11.92" lengthAdjust="spacingAndGlyphs">600</text>
<line x1="183.44" y1="431.55" x2="183.44" y2="434.05" stroke="#626262" stroke-width="1.00"/>
<text x="183.44" y="440.95" font-size="7.20" text-anchor="middle" font-weight="normal" stroke="#000" stroke-width="0.25" textLength="11.92" lengthAdjust="spacingAndGlyphs">700</text>
<line x1="232.60" y1="431.55" x2="232.60" y2="434.05" stroke="#626262" stroke-width="1.00"/>
<text x="232.60" y="440.95" font-size="7.20" text-anchor="middle" font-weight="normal" stroke="#000" stroke-width="0.25" textLength="11.92" lengthAdjust="spacingAndGlyphs">800</text>
<line x1="281.77" y1="431.55" x2="281.77" y2="434.05" stroke="#626262" stroke-width="1.00"/>
<text x="281.77" y="440.95" font-size="7.20" text-anchor="middle" font-weight="normal" stroke="#000" stroke-width="0.25" textLength="11.92" lengthAdjust="spacingAndGlyphs">900</text>
<line x1="330.94" y1="431.55" x2="330.94" y2="434.05" stroke="#626262" stroke-width="1.00"/>
<text x="330.94" y="440.95" font-size="7.20" text-anchor="middle" font-weight="normal" stroke="#000" stroke-width="0.25" textLength="15.90" lengthAdjust="spacingAndGlyphs">1000</text>
<line x1="33.43" y1="429.58" x2="35.93" y2="429.58" stroke="#626262" stroke-width="1.00"/>
<text x="31.03" y="432.58" font-size="7.20" text-anchor="end" font-weight="normal" stroke="#000" stroke-width="0.25" textLength="19.15" lengthAdjust="spacingAndGlyphs">−0.10</text>
<line x1="33.43" y1="412.54" x2="35.93" y2="412.54" stroke="#626262" stroke-width="1.00"/>
<text x="31.03" y="415.54" font-size="7.20" text-anchor="end" font-weight="normal" stroke="#000" stroke-width="0.25" textLength="19.15" lengthAdjust="spacingAndGlyphs">−0.05</text>
<line x1="33.43" y1="395.50" x2="35.93" y2="395.50" stroke="#626262" stroke-width="1.00"/>
<text x="31.03" y="398.50" font-size="7.20" text-anchor="end" font-weight="normal" stroke="#000" stroke-width="0.25" textLength="13.91" lengthAdjust="spacingAndGlyphs">0.00</text>
<line x1="33.43" y1="378.46" x2="35.93" y2="378.46" stroke="#626262" stroke-width="1.00"/>
<text x="31.03" y="381.46" font-size="7.20" text-anchor="end" font-weight="normal" stroke="#000" stroke-width="0.25" textLength="13.91" lengthAdjust="spacingAndGlyphs">0.05</text>
<line x1="33.43" y1="361.42" x2="35.93" y2="361.42" stroke="#626262" stroke-width="1.00"/>
<text x="31.03" y="364.42" font-size="7.20" text-anchor="end" font-weight="normal" stroke="#000" stroke-width="0.25" textLength="13.91" lengthAdjust="spacingAndGlyphs">0.10</text>
<line x1="33.43" y1="344.38" x2="35.93" y2="344.38" stroke="#626262" stroke-width="1.00"/>
<text x="31.03" y="347.38" font-size="7.20" text-anchor="end" font-weight="normal" stroke="#000" stroke-width="0.25" textLength="13.91" lengthAdjust="spacingAndGlyphs">0.15</text>
<line x1="33.43" y1="327.34" x2="35.93" y2="327.34" stroke="#626262" stroke-width="1.00"/>
<text x="31.03" y="330.34" font-size="7.20" text-anchor="end" font-weight="normal" stroke="#000" stroke-width="0.25" textLength="13.91" lengthAdjust="spacingAndGlyphs">0.20</text>
<text x="183.44" y="452.15" font-size="9.60" text-anchor="middle" font-weight="normal" stroke="#000" stroke-width="0.20" textLength="80.40" lengthAdjust="spacingAndGlyphs">Wavelength /(nm)</text>
<text x="0" y="0" font-size="9.60" text-anchor="middle" textLength="105.6" lengthAdjust="spacingAndGlyphs" stroke="#000" stroke-width="0.20" transform="translate(7.10,375.48) rotate(-90)">Correlation Coefficients</text>
<text x="183.44" y="314.60" font-size="9.60" text-anchor="middle" font-weight="normal" stroke="#000" stroke-width="0.20" textLength="18.16" lengthAdjust="spacingAndGlyphs">FDR</text>
<text x="37.23" y="314.10" font-size="10.80" text-anchor="start" font-weight="bold">e</text>
<clipPath id="clipf"><rect x="382.06" y="319.10" width="295.01" height="112.45"/></clipPath>
<path d="M382.50,373.50 L383.10,373.90 L384.20,375.00 L385.40,377.10 L386.50,375.40 L387.50,375.80 L388.60,378.90 L389.60,377.70 L390.80,376.60 L392.20,378.10 L393.50,373.50 L394.50,376.60 L395.40,380.20 L396.80,379.90 L398.10,375.40 L399.10,373.50 L400.20,372.30 L401.00,375.00 L402.20,378.10 L403.10,375.00 L404.30,374.30 L405.80,375.80 L407.30,377.90 L408.90,379.30 L410.40,378.10 L411.70,374.80 L413.50,373.70 L414.50,377.00 L415.40,381.20 L416.40,376.20 L417.80,373.70 L419.30,372.70 L420.40,371.40 L421.40,378.50 L422.50,382.20 L423.80,383.00 L424.70,379.30 L425.60,375.80 L427.00,379.30 L428.20,377.30 L429.30,376.60 L430.10,381.60 L431.60,385.90 L433.70,388.00 L435.20,374.40 L436.60,375.80 L438.30,345.80 L439.50,343.60 L440.50,339.30 L442.30,380.10 L443.80,377.30 L445.60,377.00" fill="none" stroke="#1f77b4" stroke-width="1.1" stroke-linejoin="round" stroke-linecap="square" clip-path="url(#clipf)"/>
<path d="M450.20,370.10 L452.10,378.00 L453.80,359.40 L455.50,358.40 L457.40,391.60 L460.70,358.40 L463.80,380.10 L465.50,378.70 L467.40,383.70 L469.30,377.30" fill="none" stroke="#1f77b4" stroke-width="1.1" stroke-linejoin="round" stroke-linecap="square" clip-path="url(#clipf)"/>
<path d="M473.60,362.20 L475.30,382.20 L477.00,376.30 L478.80,378.30 L480.60,375.30 L482.60,377.80 L485.10,373.80 L487.60,373.80 L488.80,377.00 L491.80,377.80 L494.00,325.00 L496.00,426.50 L498.10,376.30 L499.80,375.30 L501.10,380.80 L502.60,417.20 L504.10,398.40 L506.10,394.60 L507.90,375.30 L509.10,374.50 L510.60,343.10 L514.10,385.80 L515.60,384.60 L517.70,365.20 L519.70,383.80 L521.20,375.80 L522.70,374.50 L524.20,364.50 L526.20,379.60 L527.60,384.20" fill="none" stroke="#1f77b4" stroke-width="1.1" stroke-linejoin="round" stroke-linecap="square" clip-path="url(#clipf)"/>
<path d="M530.60,375.10 L532.20,374.60 L534.40,376.50 L536.00,374.60 L537.30,371.50 L538.80,375.40 L541.00,378.70" fill="none" stroke="#1f77b4" stroke-width="1.1" stroke-linejoin="round" stroke-linecap="square" clip-path="url(#clipf)"/>
<path d="M550.50,370.40 L552.30,369.50 L553.80,374.30 L555.60,375.40 L557.10,374.80 L559.10,386.40 L560.80,402.30 L562.40,379.20 L563.80,377.60 L565.20,378.30 L566.30,377.60 L567.70,373.50 L569.00,375.40 L570.70,378.10 L572.30,376.50 L574.30,374.80 L575.60,375.90 L577.00,375.40 L577.80,377.00 L579.20,380.50 L580.60,377.00 L582.40,377.60 L584.40,376.50 L585.70,374.60 L587.50,379.00 L589.40,372.60 L591.00,374.30 L592.30,375.70 L594.10,371.50 L595.40,375.90 L596.30,378.10 L597.60,375.40 L599.30,378.30 L600.90,377.00 L602.60,377.00 L604.40,372.10" fill="none" stroke="#1f77b4" stroke-width="1.1" stroke-linejoin="round" stroke-linecap="square" clip-path="url(#clipf)"/>
<path d="M607.50,378.10 L608.80,375.40 L610.80,376.50 L613.00,377.60 L614.30,377.60 L615.80,373.90 L617.40,375.00 L619.10,375.70 L621.00,373.50 L622.40,375.40 L624.00,375.90 L625.40,377.00 L627.10,378.30 L628.40,377.60 L629.80,375.90 L630.30,376.50" fill="none" stroke="#1f77b4" stroke-width="1.1" stroke-linejoin="round" stroke-linecap="square" clip-path="url(#clipf)"/>
<path d="M649.10,373.10 L650.60,374.70 L651.50,375.50 L652.80,372.60 L654.20,376.70 L655.70,377.10 L656.90,375.90 L658.10,374.30 L659.30,376.70 L660.90,376.20 L661.70,374.70 L662.70,357.70 L664.50,378.90 L666.10,376.70 L667.80,377.70 L669.30,377.10 L670.90,383.70 L672.40,385.00 L673.60,381.30 L674.80,374.70 L676.40,377.10 L677.00,377.00" fill="none" stroke="#1f77b4" stroke-width="1.1" stroke-linejoin="round" stroke-linecap="square" clip-path="url(#clipf)"/>
<path d="M382.06,319.10 H677.07 V431.55 H382.06 Z" fill="none" stroke="#626262" stroke-width="1.00"/>
<line x1="382.06" y1="431.55" x2="382.06" y2="434.05" stroke="#626262" stroke-width="1.00"/>
<text x="382.06" y="440.95" font-size="7.20" text-anchor="middle" font-weight="normal" stroke="#000" stroke-width="0.25" textLength="11.92" lengthAdjust="spacingAndGlyphs">400</text>
<line x1="431.23" y1="431.55" x2="431.23" y2="434.05" stroke="#626262" stroke-width="1.00"/>
<text x="431.23" y="440.95" font-size="7.20" text-anchor="middle" font-weight="normal" stroke="#000" stroke-width="0.25" textLength="11.92" lengthAdjust="spacingAndGlyphs">500</text>
<line x1="480.40" y1="431.55" x2="480.40" y2="434.05" stroke="#626262" stroke-width="1.00"/>
<text x="480.40" y="440.95" font-size="7.20" text-anchor="middle" font-weight="normal" stroke="#000" stroke-width="0.25" textLength="11.92" lengthAdjust="spacingAndGlyphs">600</text>
<line x1="529.57" y1="431.55" x2="529.57" y2="434.05" stroke="#626262" stroke-width="1.00"/>
<text x="529.57" y="440.95" font-size="7.20" text-anchor="middle" font-weight="normal" stroke="#000" stroke-width="0.25" textLength="11.92" lengthAdjust="spacingAndGlyphs">700</text>
<line x1="578.73" y1="431.55" x2="578.73" y2="434.05" stroke="#626262" stroke-width="1.00"/>
<text x="578.73" y="440.95" font-size="7.20" text-anchor="middle" font-weight="normal" stroke="#000" stroke-width="0.25" textLength="11.92" lengthAdjust="spacingAndGlyphs">800</text>
<line x1="627.90" y1="431.55" x2="627.90" y2="434.05" stroke="#626262" stroke-width="1.00"/>
<text x="627.90" y="440.95" font-size="7.20" text-anchor="middle" font-weight="normal" stroke="#000" stroke-width="0.25" textLength="11.92" lengthAdjust="spacingAndGlyphs">900</text>
<line x1="677.07" y1="431.55" x2="677.07" y2="434.05" stroke="#626262" stroke-width="1.00"/>
<text x="677.07" y="440.95" font-size="7.20" text-anchor="middle" font-weight="normal" stroke="#000" stroke-width="0.25" textLength="15.90" lengthAdjust="spacingAndGlyphs">1000</text>
<line x1="379.56" y1="424.20" x2="382.06" y2="424.20" stroke="#626262" stroke-width="1.00"/>
<text x="377.16" y="427.20" font-size="7.20" text-anchor="end" font-weight="normal" stroke="#000" stroke-width="0.25" textLength="19.15" lengthAdjust="spacingAndGlyphs">−0.75</text>
<line x1="379.56" y1="408.20" x2="382.06" y2="408.20" stroke="#626262" stroke-width="1.00"/>
<text x="377.16" y="411.20" font-size="7.20" text-anchor="end" font-weight="normal" stroke="#000" stroke-width="0.25" textLength="19.15" lengthAdjust="spacingAndGlyphs">−0.50</text>
<line x1="379.56" y1="392.20" x2="382.06" y2="392.20" stroke="#626262" stroke-width="1.00"/>
<text x="377.16" y="395.20" font-size="7.20" text-anchor="end" font-weight="normal" stroke="#000" stroke-width="0.25" textLength="19.15" lengthAdjust="spacingAndGlyphs">−0.25</text>
<line x1="379.56" y1="376.20" x2="382.06" y2="376.20" stroke="#626262" stroke-width="1.00"/>
<text x="377.16" y="379.20" font-size="7.20" text-anchor="end" font-weight="normal" stroke="#000" stroke-width="0.25" textLength="13.91" lengthAdjust="spacingAndGlyphs">0.00</text>
<line x1="379.56" y1="360.20" x2="382.06" y2="360.20" stroke="#626262" stroke-width="1.00"/>
<text x="377.16" y="363.20" font-size="7.20" text-anchor="end" font-weight="normal" stroke="#000" stroke-width="0.25" textLength="13.91" lengthAdjust="spacingAndGlyphs">0.25</text>
<line x1="379.56" y1="344.20" x2="382.06" y2="344.20" stroke="#626262" stroke-width="1.00"/>
<text x="377.16" y="347.20" font-size="7.20" text-anchor="end" font-weight="normal" stroke="#000" stroke-width="0.25" textLength="13.91" lengthAdjust="spacingAndGlyphs">0.50</text>
<line x1="379.56" y1="328.20" x2="382.06" y2="328.20" stroke="#626262" stroke-width="1.00"/>
<text x="377.16" y="331.20" font-size="7.20" text-anchor="end" font-weight="normal" stroke="#000" stroke-width="0.25" textLength="13.91" lengthAdjust="spacingAndGlyphs">0.75</text>
<text x="529.57" y="452.15" font-size="9.60" text-anchor="middle" font-weight="normal" stroke="#000" stroke-width="0.20" textLength="80.40" lengthAdjust="spacingAndGlyphs">Wavelength /(nm)</text>
<text x="0" y="0" font-size="9.60" text-anchor="middle" textLength="105.6" lengthAdjust="spacingAndGlyphs" stroke="#000" stroke-width="0.20" transform="translate(353.10,375.48) rotate(-90)">Correlation Coefficients</text>
<text x="529.57" y="314.60" font-size="9.60" text-anchor="middle" font-weight="normal" stroke="#000" stroke-width="0.20" textLength="18.69" lengthAdjust="spacingAndGlyphs">SDR</text>
<text x="383.36" y="314.90" font-size="10.80" text-anchor="start" font-weight="bold" textLength="4.52" lengthAdjust="spacingAndGlyphs">f</text>
</svg>
</body></html>
